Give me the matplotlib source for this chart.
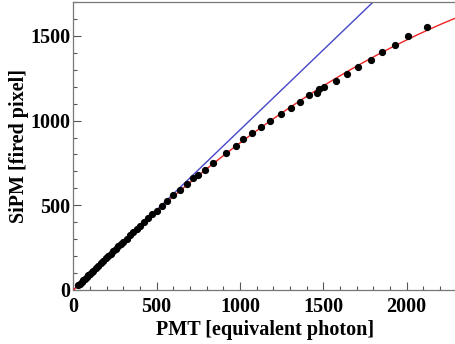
#------------------------------#
# IMPORT LIBRARIES
#------------------------------#

import numpy as np
import matplotlib
matplotlib.use('Agg')
import matplotlib.pyplot as plt
from matplotlib.ticker import MultipleLocator

#------------------------------#
# DATA
#------------------------------#

pmt = [30, 40, 50, 60, 70, 80, 90, 100, 110, 120, 135, 150, 165, 180, 195,
       210, 225, 240, 255, 270, 285, 300, 320, 340, 360, 380, 400, 425, 450,
       475, 500, 530, 565, 600, 640, 680, 720, 750, 790, 836, 916, 976, 1020,
       1070, 1124, 1180, 1244, 1304, 1360, 1416, 1460, 1476, 1506, 1576,
       1644, 1710, 1784, 1854, 1930, 2010, 2124]
sipm = [28, 38, 48, 57, 67, 77, 86, 96, 105, 115, 129, 144, 158, 172, 186,
        200, 215, 229, 243, 257, 271, 285, 304, 322, 341, 359, 377, 400, 423,
        446, 468, 496, 527, 558, 593, 627, 659, 681, 710, 752, 811, 850, 890,
        925, 964, 1000, 1039, 1076, 1112, 1151, 1161, 1187, 1197, 1234,
        1275, 1317, 1358, 1403, 1446, 1499, 1554]

# linear extrapolation (blue) slope, from the picture
linear_slope = 0.945

x_range = (0, 2300)
y_range = (0, 1700)

#------------------------------#
# PLOT
#------------------------------#

plt.rcParams['font.family'] = 'Liberation Serif'
plt.rcParams['font.weight'] = 'bold'

fig = plt.figure(figsize=(4.55, 3.44), dpi=100)
ax = fig.add_axes([0.161, 0.157, 0.8425, 0.837])

xs = np.linspace(0, x_range[1], 300)

# blue: linear response
ax.plot(xs, linear_slope * xs, color='#4646c8', linewidth=1.0, zorder=2)

# red: fit to the measured points
coef = np.polyfit(pmt, sipm, 2)
ax.plot(xs, np.polyval(coef, xs), color='#ee2222', linewidth=1.0, zorder=3)

ax.plot(pmt, sipm, 'o', color='black', markersize=4.2, zorder=4)

ax.set_xlim(*x_range)
ax.set_ylim(*y_range)
ax.xaxis.set_major_locator(MultipleLocator(500))
ax.xaxis.set_minor_locator(MultipleLocator(100))
ax.yaxis.set_major_locator(MultipleLocator(500))
ax.yaxis.set_minor_locator(MultipleLocator(100))

ax.tick_params(which='both', direction='in', colors='#555555',
               labelcolor='black', labelsize=14.5, width=0.8)
ax.tick_params(which='major', length=6)
ax.tick_params(which='minor', length=3)
ax.tick_params(axis='x', pad=5)
ax.tick_params(axis='y', pad=2)
for lab in ax.get_xticklabels() + ax.get_yticklabels():
    lab.set_fontweight('bold')

for sp in ax.spines.values():
    sp.set_color('#777777')
    sp.set_linewidth(0.9)

ax.set_xlabel('PMT [equivalent photon]', fontsize=14.5, fontweight='bold', labelpad=2)
ax.set_ylabel('SiPM [fired pixel]', fontsize=14.5, fontweight='bold', labelpad=1)

fig.savefig('out.png', dpi=100)
